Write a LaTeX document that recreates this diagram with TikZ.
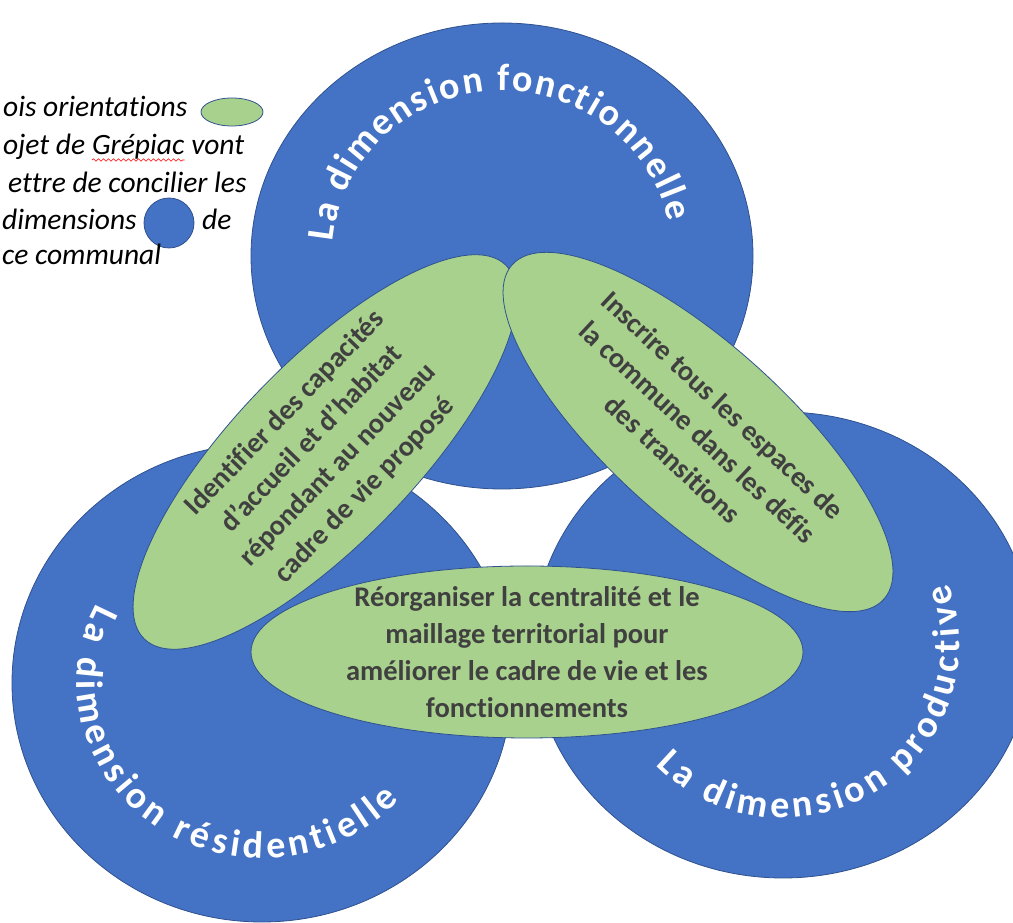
\documentclass[tikz,border=0pt]{standalone}
\usepackage{fontspec}
\setmainfont{Carlito}[Ligatures=NoCommon]
\usepackage{tikz}
\usetikzlibrary{shapes.geometric,decorations.text,decorations.pathmorphing,positioning}
\definecolor{dimblue}{RGB}{68,114,196}
\definecolor{dimedge}{RGB}{47,82,143}
\definecolor{orientgreen}{RGB}{169,209,142}
\definecolor{orientink}{RGB}{64,64,64}
\tikzstyle{dimcircle} = [ellipse, draw=dimedge, fill=dimblue, line width=0.8pt, minimum width=500pt, inner sep=0pt]
\tikzstyle{orientbox} = [ellipse, draw=dimedge, fill=orientgreen, line width=0.8pt, inner sep=0pt]
\tikzstyle{orienttext} = [text=orientink, font=\fontsize{28.5}{37}\selectfont\bfseries, align=center]
\tikzstyle{legendtext} = [anchor=base west, inner sep=0pt, font=\fontsize{29.5}{34}\selectfont\itshape]
\tikzstyle{spellwave} = [draw=red, line width=0.6pt, decorate, decoration={snake, amplitude=1.2pt, segment length=5pt}]
\newcommand{\dimfont}{\fontsize{38}{38}\selectfont\bfseries\color{white}}

\begin{document}
\begin{tikzpicture}[x=1pt, y=1pt]
\path[use as bounding box, clip] (0,0) rectangle (1013,923);

% Three dimensions of the commune
\node[dimcircle, minimum height=478pt] (resid) at (262,240) {};
\node[dimcircle, minimum height=466pt] (prod) at (783,278) {};
\node[dimcircle, minimum width=502pt, minimum height=466pt] (fonct) at (502,667) {};

% Curved labels
\path[decorate, decoration={text along path, text align=fit to path, text={|\dimfont|La dimension fonctionnelle}}]
  (fonct.center) ++(175:170pt and 165pt) arc[start angle=175, end angle=12, x radius=170pt, y radius=165pt];
\path[decorate, decoration={text along path, text align=fit to path, text={|\dimfont|La dimension résidentielle}}]
  (resid.center) ++(153:185pt and 175pt) arc[start angle=153, end angle=318, x radius=185pt, y radius=175pt];
\path[decorate, decoration={text along path, text align=fit to path, text={|\dimfont|La dimension productive}}]
  (prod.center) ++(224:177pt and 173pt) arc[start angle=224, end angle=381, x radius=177pt, y radius=173pt];

% Three orientations
\node[orientbox, rotate=46, minimum width=520pt, minimum height=180pt] (habitat) at (325,471) {};
\node[orienttext, rotate=46] at (habitat) {Identifier des capacités\\d’accueil et d’habitat\\répondant au nouveau\\cadre de vie proposé};
\node[orientbox, rotate=-42, minimum width=500pt, minimum height=176pt] (transit) at (698,491) {};
\node[orienttext, rotate=-43] at (transit) {Inscrire tous les espaces de\\la commune dans les défis\\des transitions};
\node[orientbox, minimum width=552pt, minimum height=172pt] (maillage) at (527,271) {};
\node[orienttext] at (maillage) {Réorganiser la centralité et le\\maillage territorial pour\\améliorer le cadre de vie et les\\fonctionnements};

% Legend (cut at the left edge)
\node[legendtext] (lega) at (3,806) {ois orientations};
\node[orientbox, minimum width=62pt, minimum height=28pt] (legoval) at (232,811) {};
\node[legendtext] (legb) at (3,768) {ojet de};
\node[legendtext, base right=6.6pt of legb] (grepiac) {Grépiac};
\node[legendtext, base right=6.6pt of grepiac] (legbb) {vont};
\draw[spellwave] ([yshift=-5pt]grepiac.base west) -- ([yshift=-5pt]grepiac.base east);
\node[legendtext] (legc) at (8,730) {ettre de concilier les};
\node[legendtext] (legd) at (2,693) {dimensions};
\node[dimcircle, minimum width=50pt, minimum height=50pt] (legdot) at (169,700) {};
\node[legendtext] (legdd) at (202,693) {de};
\node[legendtext] (lege) at (2,658) {ce communal};
\end{tikzpicture}
\end{document}
